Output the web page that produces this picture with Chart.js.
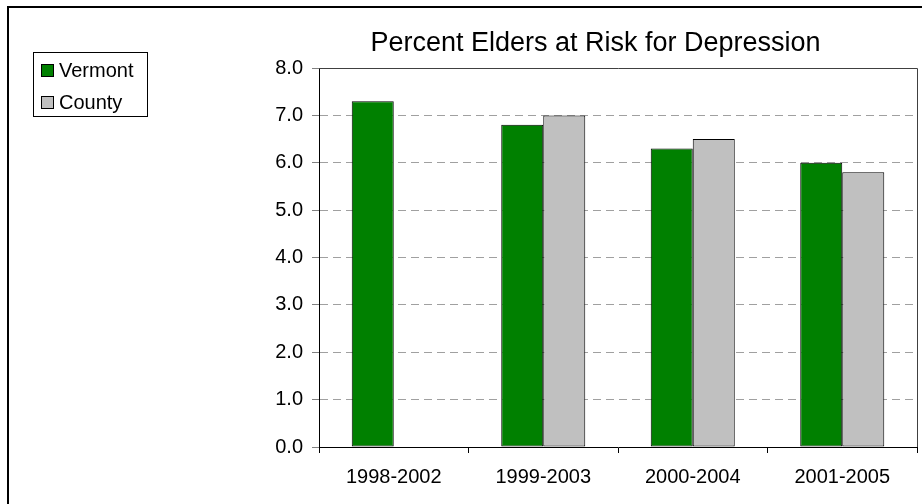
<!DOCTYPE html>
<html>
<head>
<meta charset="utf-8">
<script src="https://cdn.jsdelivr.net/npm/chart.js@4/dist/chart.umd.min.js"></script>
<style>
html,body{margin:0;padding:0;background:#fff;}
canvas{display:block;}
</style>
</head>
<body>
<canvas id="c" width="922" height="504"></canvas>
<script>
const categories = ['1998-2002', '1999-2003', '2000-2004', '2001-2005'];
const vermontValues = [7.3, 6.8, 6.3, 6.0];
const countyValues = [null, 7.0, 6.5, 5.8];
const seriesLabels = ['Vermont', 'County'];
const seriesColors = ['#008000', '#c0c0c0'];
const titleText = 'Percent Elders at Risk for Depression';
const FONT = "'Liberation Sans', Arial, sans-serif";

const framePlugin = {
  id: 'frame',
  afterDraw(chart) {
    const ctx = chart.ctx;
    const a = chart.chartArea;
    ctx.save();
    // outer border (top and left)
    ctx.fillStyle = '#000';
    ctx.fillRect(7, 6, 915, 2);
    ctx.fillRect(7, 6, 2, 498);
    // plot frame top and right
    ctx.strokeStyle = '#404040';
    ctx.lineWidth = 1;
    ctx.beginPath();
    ctx.moveTo(a.left, Math.round(a.top) + 0.5);
    ctx.lineTo(Math.round(a.right) + 0.5, Math.round(a.top) + 0.5);
    ctx.lineTo(Math.round(a.right) + 0.5, a.bottom);
    ctx.stroke();
    // legend
    ctx.strokeStyle = '#000';
    ctx.strokeRect(33.5, 52.5, 114, 64);
    ctx.font = '20px ' + FONT;
    ctx.textBaseline = 'middle';
    ctx.textAlign = 'left';
    chart.data.datasets.forEach((ds, i) => {
      const y = 64 + i * 32;
      ctx.fillStyle = ds.backgroundColor;
      ctx.fillRect(41, y, 12, 12);
      ctx.strokeStyle = '#000';
      ctx.strokeRect(41.5, y + 0.5, 12, 12);
      ctx.fillStyle = '#000';
      ctx.fillText(ds.label, 59, y + 7);
    });
    ctx.restore();
  }
};

new Chart(document.getElementById('c'), {
  type: 'bar',
  data: {
    labels: categories,
    datasets: [
      { label: seriesLabels[0], data: vermontValues, backgroundColor: seriesColors[0], borderColor: '#000', borderWidth: 1, borderSkipped: false },
      { label: seriesLabels[1], data: countyValues, backgroundColor: seriesColors[1], borderColor: '#000', borderWidth: 1, borderSkipped: false }
    ]
  },
  options: {
    responsive: false,
    animation: false,
    devicePixelRatio: 1,
    layout: { padding: { left: 274, right: 5, top: 0, bottom: 0 } },
    datasets: { bar: { categoryPercentage: 0.562, barPercentage: 1.0 } },
    plugins: {
      legend: { display: false },
      tooltip: { enabled: false },
      title: {
        display: true,
        text: titleText,
        color: '#000',
        font: { family: FONT, size: 27, weight: 'normal' },
        padding: { top: 27, bottom: 8.6 }
      }
    },
    scales: {
      x: {
        afterFit(s) { s.height = 57; },
        grid: { offset: true, drawOnChartArea: false, tickLength: 6, tickColor: '#000' },
        border: { color: '#000', width: 1 },
        ticks: { color: '#000', font: { family: FONT, size: 20 }, padding: 12, maxRotation: 0 }
      },
      y: {
        min: 0, max: 8,
        afterFit(s) { s.width = 45; },
        grid: { color: '#a0a0a0', tickLength: 7, tickColor: '#808080', lineWidth: 1 },
        border: { color: '#000', width: 1, dash: [8, 5] },
        ticks: { stepSize: 1, color: '#000', font: { family: FONT, size: 20 }, padding: 9,
          callback: v => Number(v).toFixed(1) }
      }
    }
  },
  plugins: [framePlugin]
});
</script>
</body>
</html>
